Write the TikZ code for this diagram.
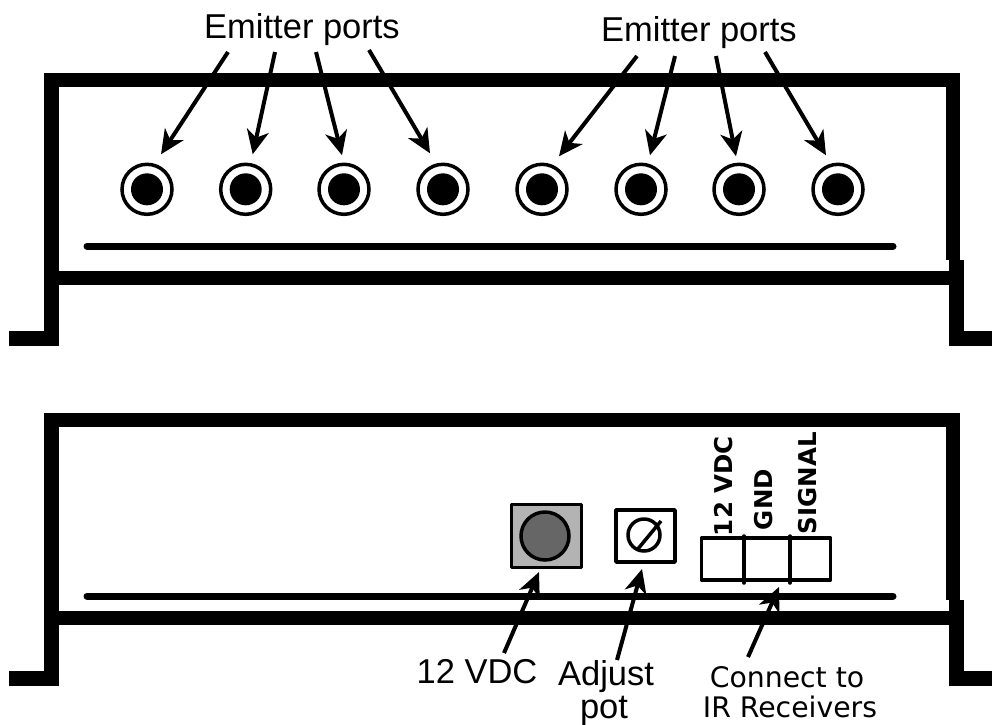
\documentclass[tikz,border=0pt]{standalone}
\usepackage{fontspec}
\setmainfont{Liberation Sans}
\newfontfamily\widefont{DejaVu Sans}
\usetikzlibrary{arrows.meta, calc}
\definecolor{panelgrey}{HTML}{B3B3B3}
\definecolor{jackgrey}{HTML}{666666}

\begin{document}
\begin{tikzpicture}[
    x=1pt, y=-1pt,
    every node/.style={inner sep=0pt, outer sep=0pt},
    wall/.style={line width=14.5pt, line cap=butt, line join=miter},
    rail/.style={line width=7pt, line cap=round},
    outline/.style={draw, line width=3.5pt, line join=round},
    port/.style={circle, draw, line width=3.5pt, fill=white, minimum size=50pt},
    hole/.style={circle, fill=black, minimum size=32pt},
    pointer/.style={line width=4pt, -{Stealth[length=24pt, width=22pt, inset=7pt]}},
    biglab/.style={font=\fontsize{34.5}{36}\selectfont},
    widelab/.style={font=\widefont\fontsize{28.3}{30}\selectfont},
    pinlab/.style={font=\widefont\bfseries\fontsize{24.5}{26}\selectfont, rotate=90, anchor=west},
]
\useasboundingbox (0,0) rectangle (992,724);

% ================================================================ upper panel
\draw[wall] (51.5,260) -- (51.5,80) -- (953,80) -- (953,260);
\draw[wall] (51.5,278) -- (952,278);
\draw[wall] (51.5,260) -- (51.5,338.5) -- (9,338.5);
\draw[wall] (956.5,260) -- (956.5,338.5) -- (992,338.5);
\draw[rail] (87,246) -- (893,246);

\foreach \n/\x in {1/147, 2/245.7, 3/344, 4/443, 5/542, 6/641, 7/739, 8/838}{
    \node[port] (port\n) at (\x,189.3) {};
    \node[hole] (hole\n) at (port\n) {};
}

\node[biglab] (emitleft) at (302,30) {Emitter ports};
\node[biglab] (emitright) at (699,33) {Emitter ports};

% tails and tips of the port arrows
\foreach \n/\tx/\ty/\hx/\hy in {1/228/52/14/-35, 2/275/52/7/-35, 3/316/52/-2/-34, 4/369/50/-13/-36,
                                5/637/56/17/-33, 6/675/56/9/-34, 7/716/56/-3/-33, 8/765/52/-12/-34}{
    \coordinate (tail\n) at (\tx,\ty);
    \coordinate (tip\n) at ($(port\n)+(\hx,\hy)$);
    \draw[pointer] (tail\n) -- (tip\n);
}

% ================================================================ lower panel
\draw[wall] (51.5,600) -- (51.5,420) -- (953,420) -- (953,600);
\draw[wall] (51.5,618) -- (952,618);
\draw[wall] (51.5,600) -- (51.5,678.5) -- (9,678.5);
\draw[wall] (956.5,600) -- (956.5,678.5) -- (992,678.5);
\draw[rail] (87,596) -- (893,596);

% power jack
\node[outline, fill=panelgrey, minimum width=70pt, minimum height=63pt] (jack) at (546.5,536) {};
\node[outline, circle, fill=jackgrey, minimum size=48pt] (jackhole) at (545,536) {};

% trim pot
\node[outline, minimum width=59pt, minimum height=52pt] (pot) at (645.5,536) {};
\node[outline, circle, minimum size=32pt] (potdial) at (644,535) {};
\coordinate (slasha) at (637,550);
\coordinate (slashb) at (661,521);
\draw[line width=3.5pt] (slasha) -- (slashb);

% terminal block
\node[outline, minimum width=129pt, minimum height=42pt] (block) at (766,559) {};
\coordinate (diva) at (744,536);
\coordinate (divb) at (744,583);
\coordinate (divc) at (790,536);
\coordinate (divd) at (790,583);
\draw[line width=3.5pt, line cap=round] (diva) -- (divb);
\draw[line width=3.5pt, line cap=round] (divc) -- (divd);

\node[pinlab] (pinvdc) at (724,536) {12 VDC};
\node[pinlab] (pingnd) at (764,530) {GND};
\node[pinlab] (pinsig) at (808,534) {SIGNAL};

\node[biglab] (vdclab) at (477,672) {12 VDC};
\node[biglab] (adjlab) at (606,677) {Adjust};
\node[biglab] (potlab) at (604,711) {pot};
\node[widelab] (conlab) at (787,677) {Connect to};
\node[widelab] (irlab) at (790,707) {IR Receivers};

\foreach \n/\tx/\ty/\hx/\hy in {a/504/653/539/572, b/617/660/642/569, c/748/657/779/587}{
    \coordinate (tail\n) at (\tx,\ty);
    \coordinate (tip\n) at (\hx,\hy);
    \draw[pointer] (tail\n) -- (tip\n);
}
\end{tikzpicture}
\end{document}
